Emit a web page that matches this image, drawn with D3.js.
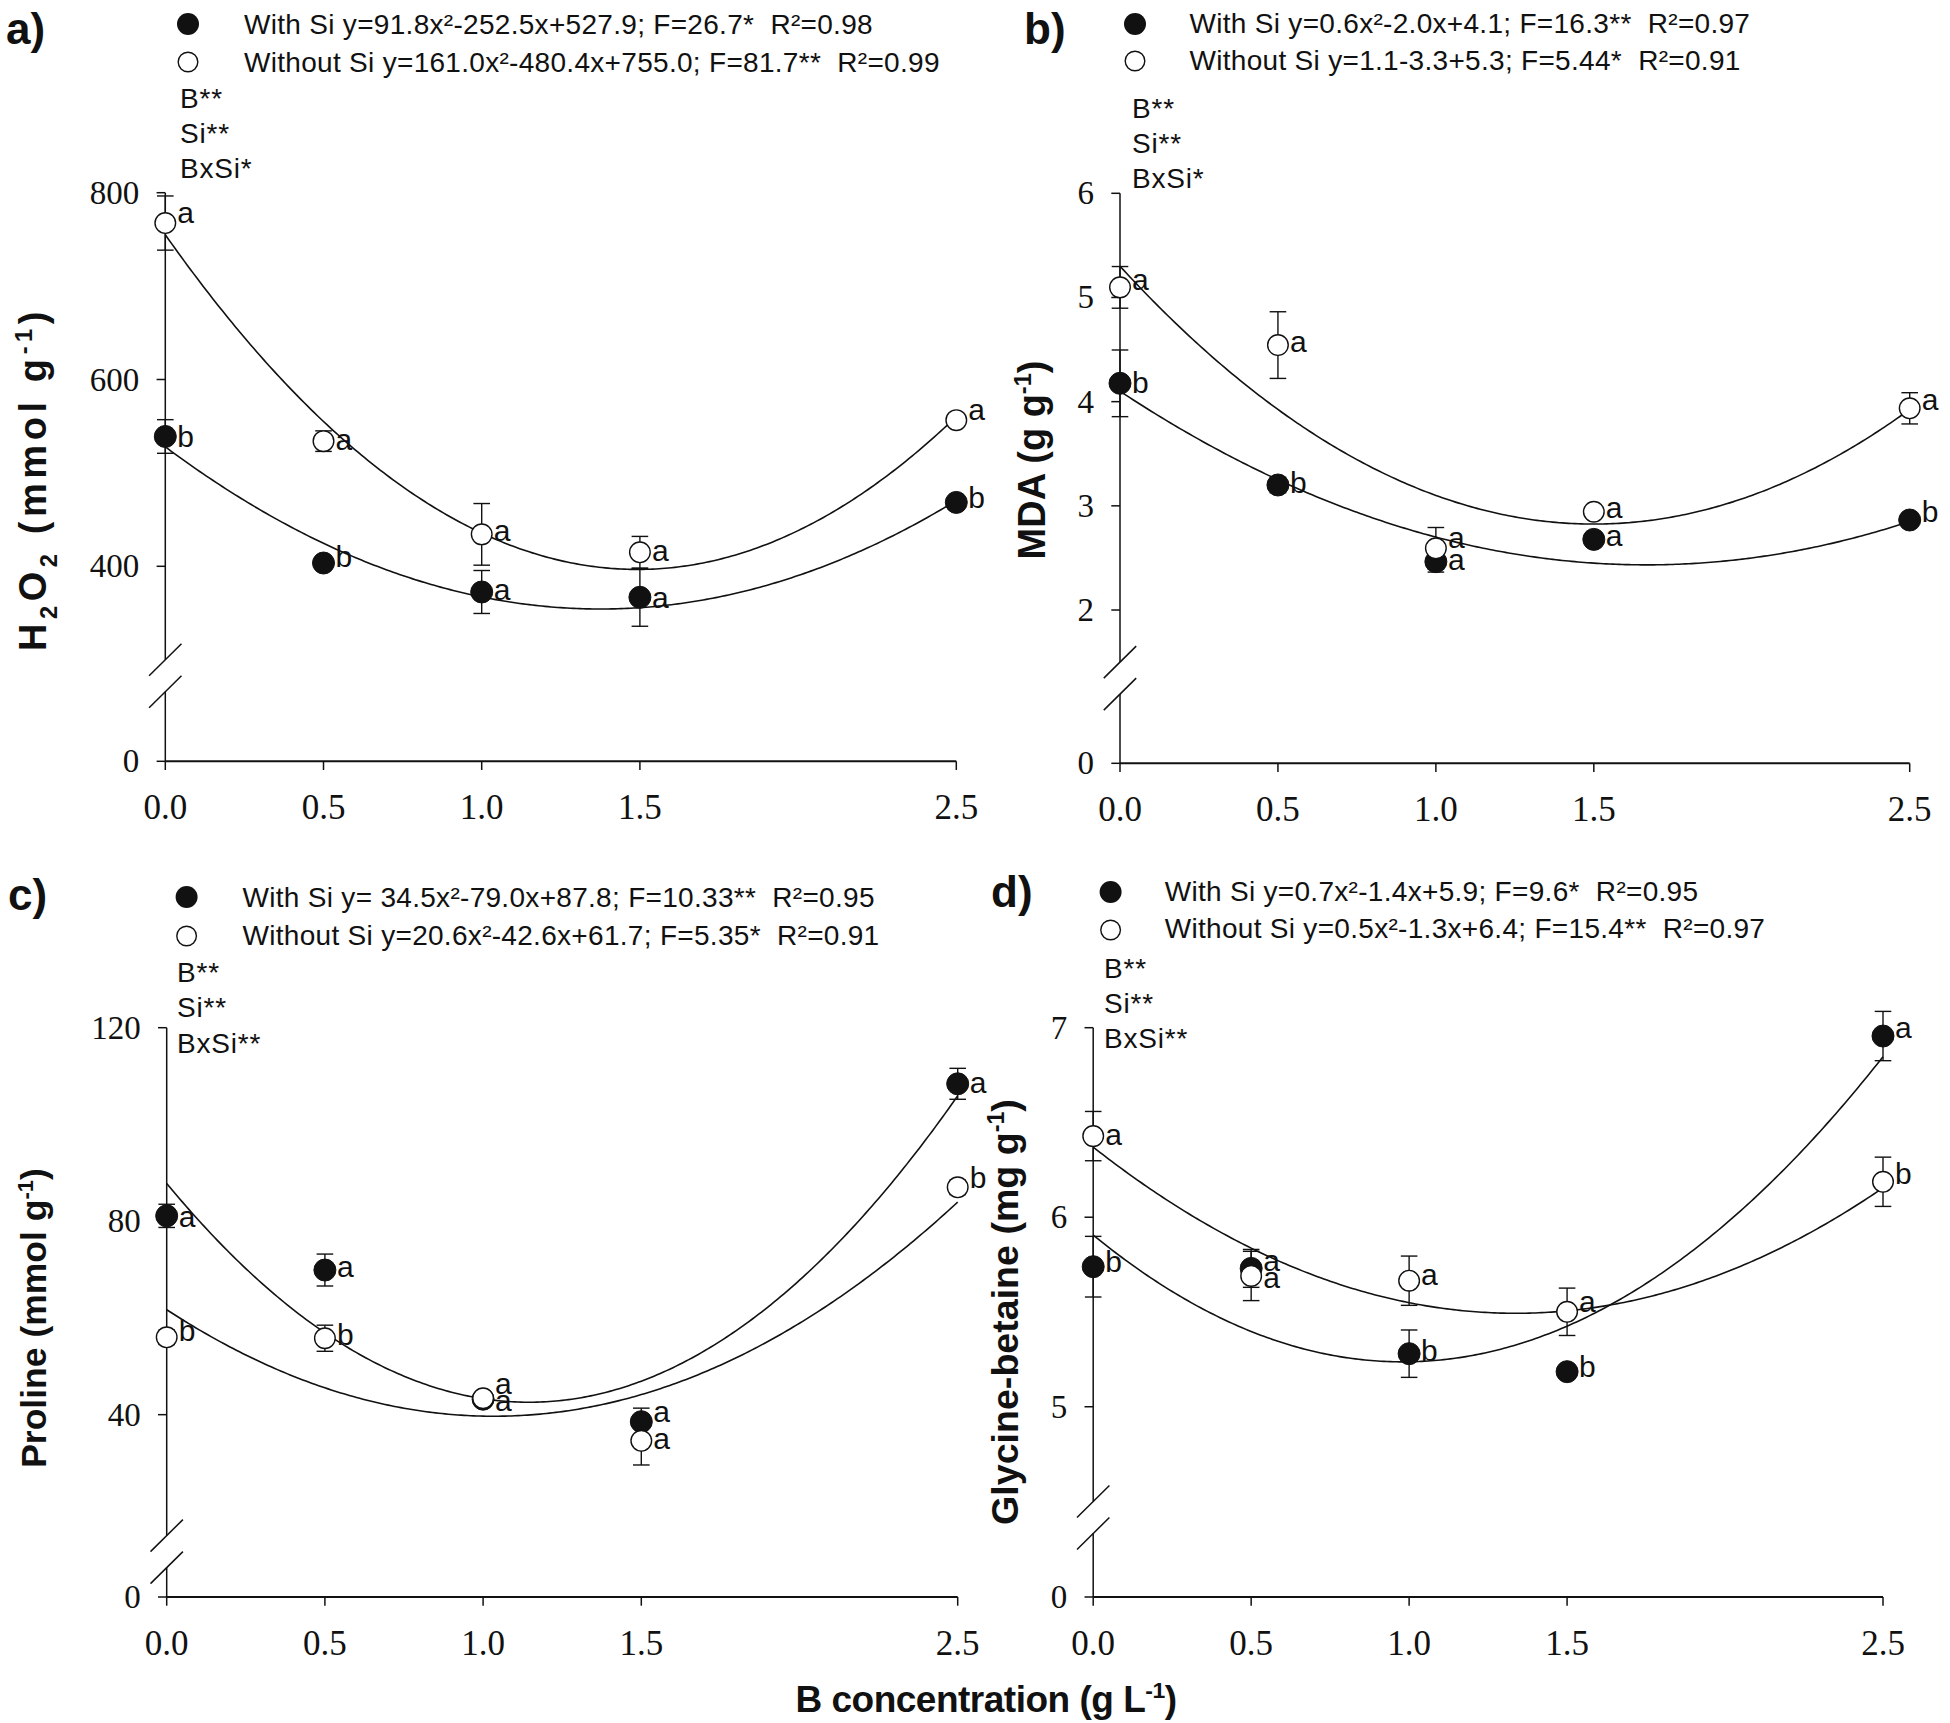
<!DOCTYPE html>
<html>
<head>
<meta charset="utf-8">
<script src="https://cdn.jsdelivr.net/npm/d3@7"></script>
<style>
  html, body { margin: 0; padding: 0; background: #ffffff; }
  svg { display: block; }
</style>
</head>
<body>
<svg id="chart" width="1950" height="1723"></svg>
<script>
// ---------------- DATA ----------------
const boronLevels = [0, 0.5, 1.0, 1.5, 2.5];
const xTickValues = [0, 0.5, 1.0, 1.5, 2.5];
const xTickLabels = ["0.0", "0.5", "1.0", "1.5", "2.5"];

// a) H2O2
const h2o2WithSi = [539, 403.5, 372.5, 366.8, 468.4];
const h2o2WithSiErr = [18, 5, 23, 31, 5];
const h2o2WithoutSi = [767.5, 534, 434.2, 415, 556.5];
const h2o2WithoutSiErr = [29, 11, 33, 17, 5];
const h2o2WithLetters = ["b", "b", "a", "a", "b"];
const h2o2WithoutLetters = ["a", "a", "a", "a", "a"];
const h2o2FitWith = [91.8, -252.5, 527.9];
const h2o2FitWithout = [161.0, -480.4, 755.0];
const h2o2Ticks = [0, 400, 600, 800];
const h2o2Legend = ["With Si y=91.8x²-252.5x+527.9; F=26.7*  R²=0.98",
                    "Without Si y=161.0x²-480.4x+755.0; F=81.7**  R²=0.99"];
const h2o2Stats = ["B**", "Si**", "BxSi*"];

// b) MDA
const mdaWithSi = [4.176, 3.2, 2.464, 2.678, 2.864];
const mdaWithSiErr = [0.32, 0.074, 0.1, 0.03, 0.03];
const mdaWithoutSi = [5.097, 4.543, 2.592, 2.943, 3.936];
const mdaWithoutSiErr = [0.2, 0.32, 0.2, 0.03, 0.15];
const mdaWithLetters = ["b", "b", "a", "a", "b"];
const mdaWithoutLetters = ["a", "a", "a", "a", "a"];
const mdaFitWith = [0.6, -2.0, 4.1];
const mdaFitWithout = [1.1, -3.3, 5.3];
const mdaTicks = [0, 2, 3, 4, 5, 6];
const mdaLegend = ["With Si y=0.6x²-2.0x+4.1; F=16.3**  R²=0.97",
                   "Without Si y=1.1-3.3+5.3; F=5.44*  R²=0.91"];
const mdaStats = ["B**", "Si**", "BxSi*"];

// c) Proline
const prolineWithSi = [81.1, 69.9, 43.2, 38.55, 108.4];
const prolineWithSiErr = [2.4, 3.3, 1, 2.8, 3.2];
const prolineWithoutSi = [56.0, 55.8, 43.4, 34.6, 87.0];
const prolineWithoutSiErr = [1.5, 2.7, 1, 5, 1.5];
const prolineWithLetters = ["a", "a", "a", "a", "a"];
const prolineWithoutLetters = ["b", "b", "a", "a", "b"];
const prolineFitWith = [34.5, -79.0, 87.8];
const prolineFitWithout = [20.6, -42.6, 61.7];
const prolineTicks = [0, 40, 80, 120];
const prolineLegend = ["With Si y= 34.5x²-79.0x+87.8; F=10.33**  R²=0.95",
                       "Without Si y=20.6x²-42.6x+61.7; F=5.35*  R²=0.91"];
const prolineStats = ["B**", "Si**", "BxSi**"];

// d) Glycine-betaine
const gbWithSi = [5.739, 5.73, 5.28, 5.185, 6.956];
const gbWithSiErr = [0.16, 0.1, 0.125, 0.03, 0.13];
const gbWithoutSi = [6.428, 5.69, 5.665, 5.501, 6.187];
const gbWithoutSiErr = [0.13, 0.13, 0.13, 0.125, 0.13];
const gbWithLetters = ["b", "a", "b", "b", "a"];
const gbWithoutLetters = ["a", "a", "a", "a", "b"];
// coefficients
const gbFitWith = [0.697, -1.366, 5.906];
const gbFitWithout = [0.49, -1.311, 6.37];
const gbTicks = [0, 5, 6, 7];
const gbLegend = ["With Si y=0.7x²-1.4x+5.9; F=9.6*  R²=0.95",
                  "Without Si y=0.5x²-1.3x+6.4; F=15.4**  R²=0.97"];
const gbStats = ["B**", "Si**", "BxSi**"];

const xTitle = [{t: "B concentration (g L"}, {t: "-1", s: "sup"}, {t: ")"}];

// ---------------- LAYOUT ----------------
const SANS = "'Liberation Sans', Arial, Helvetica, sans-serif";
const SERIF = "'Liberation Serif', 'Times New Roman', Times, serif";
const INK = "#111";

const panels = [
  {
    label: "a)", labelPos: [6, 44],
    xRange: [165.3, 956.3],
    yDomain: [0, 300, 800], yRange: [761.3, 659.7, 192.7], ticks: h2o2Ticks,
    withV: h2o2WithSi, withE: h2o2WithSiErr, withoutV: h2o2WithoutSi, withoutE: h2o2WithoutSiErr,
    withL: h2o2WithLetters, withoutL: h2o2WithoutLetters,
    withDy: [11, 4, 8, 11, 6], withoutDy: [0, 9, 7, 9, 0],
    fitWith: h2o2FitWith, fitWithout: h2o2FitWithout,
    legend: h2o2Legend, legCx: 188, legTx: 244, legY: [34, 72], legCy: [24, 62],
    stats: h2o2Stats, statsX: 180, statsY: [108, 143, 178],
    title: [{t: "H"}, {t: "2", s: "sub"}, {t: "O"}, {t: "2", s: "sub"}, {t: " (mmol g"}, {t: "-1", s: "sup"}, {t: ")"}],
    titleX: 46, titleY: 479, titleSpacing: 4.6, titleSize: 38
  },
  {
    label: "b)", labelPos: [1024, 44],
    xRange: [1120, 1909.7],
    yDomain: [0, 1.5, 6], yRange: [763.3, 662.1, 193.3], ticks: mdaTicks,
    withV: mdaWithSi, withE: mdaWithSiErr, withoutV: mdaWithoutSi, withoutE: mdaWithoutSiErr,
    withL: mdaWithLetters, withoutL: mdaWithoutLetters,
    withDy: [10, 8, 8, 7, 2], withoutDy: [3, 7, 0, 6, 2],
    fitWith: mdaFitWith, fitWithout: mdaFitWithout,
    legend: mdaLegend, legCx: 1135, legTx: 1189.5, legY: [33, 70], legCy: [24, 61],
    stats: mdaStats, statsX: 1132, statsY: [118, 153, 188],
    title: [{t: "MDA (g g"}, {t: "-1", s: "sup"}, {t: ")"}],
    titleX: 1045, titleY: 460, titleSpacing: 0, titleSize: 38
  },
  {
    label: "c)", labelPos: [8, 910],
    xRange: [166.7, 957.7],
    yDomain: [0, 15, 120], yRange: [1597, 1535.6, 1027.7], ticks: prolineTicks,
    withV: prolineWithSi, withE: prolineWithSiErr, withoutV: prolineWithoutSi, withoutE: prolineWithoutSiErr,
    withL: prolineWithLetters, withoutL: prolineWithoutLetters,
    withDy: [11, 7, -5, 0, 9], withoutDy: [4, 7, 13, 8, 1],
    fitWith: prolineFitWith, fitWithout: prolineFitWithout,
    legend: prolineLegend, legCx: 186.6, legTx: 242.5, legY: [907, 945], legCy: [897, 936],
    stats: prolineStats, statsX: 177, statsY: [982, 1017, 1053],
    title: [{t: "Proline (mmol g"}, {t: "-1", s: "sup"}, {t: ")"}],
    titleX: 46, titleY: 1318, titleSpacing: 0, titleSize: 35.5
  },
  {
    label: "d)", labelPos: [991, 907],
    xRange: [1093.2, 1883],
    yDomain: [0, 4.5, 7], yRange: [1597, 1501.5, 1027.7], ticks: gbTicks,
    withV: gbWithSi, withE: gbWithSiErr, withoutV: gbWithoutSi, withoutE: gbWithoutSiErr,
    withL: gbWithLetters, withoutL: gbWithoutLetters,
    withDy: [5, 20, 7, 5, 2], withoutDy: [9, -5, 4, 0, 2],
    fitWith: gbFitWith, fitWithout: gbFitWithout,
    legend: gbLegend, legCx: 1110.6, legTx: 1164.7, legY: [901, 938], legCy: [892, 930],
    stats: gbStats, statsX: 1104, statsY: [978, 1013, 1048],
    title: [{t: "Glycine-betaine (mg g"}, {t: "-1", s: "sup"}, {t: ")"}],
    titleX: 1018, titleY: 1312, titleSpacing: 0, titleSize: 37.6
  }
];

const svg = d3.select("#chart");
svg.append("rect").attr("width", 1950).attr("height", 1723).attr("fill", "#fff");

const TICK = 8.7;
const GAP = 32;
const MR = 11;       // filled marker radius
const MRO = 10.3;    // open marker radius
const CAP = 8.3;
const LEG_FS = 28;

function poly(c, x) { return c[0] * x * x + c[1] * x + c[2]; }

function richText(sel, parts, baseSize) {
  let shift = 0;
  parts.forEach(p => {
    const ts = sel.append("tspan").text(p.t);
    let target = 0, size = baseSize;
    if (p.s === "sub") { target = baseSize * 0.28; size = baseSize * 0.62; }
    if (p.s === "sup") { target = -baseSize * 0.38; size = baseSize * 0.62; }
    ts.attr("dy", target - shift).attr("font-size", size);
    shift = target;
  });
}

panels.forEach(P => {
  const g = svg.append("g");
  const x = d3.scaleLinear().domain([0, 2.5]).range(P.xRange);
  const y = d3.scaleLinear().domain(P.yDomain).range(P.yRange);
  const ax = P.xRange[0];
  const y0 = y(0);
  const yTop = y(P.yDomain[2]);
  const yBrk = y(P.yDomain[1]);

  // y axis (broken)
  g.append("line").attr("x1", ax).attr("x2", ax).attr("y1", yTop).attr("y2", yBrk)
    .attr("stroke", INK).attr("stroke-width", 1.5);
  g.append("line").attr("x1", ax).attr("x2", ax).attr("y1", yBrk + GAP).attr("y2", y0)
    .attr("stroke", INK).attr("stroke-width", 1.5);
  [yBrk, yBrk + GAP].forEach(cy => {
    g.append("line").attr("x1", ax - 16.2).attr("y1", cy + 16).attr("x2", ax + 16.2).attr("y2", cy - 16)
      .attr("stroke", INK).attr("stroke-width", 1.5);
  });
  // y ticks
  P.ticks.forEach(t => {
    g.append("line").attr("x1", ax - TICK).attr("x2", ax).attr("y1", y(t)).attr("y2", y(t))
      .attr("stroke", INK).attr("stroke-width", 1.5);
    g.append("text").attr("x", ax - 26).attr("y", y(t) + 11)
      .attr("text-anchor", "end").attr("font-family", SERIF).attr("font-size", 33)
      .attr("fill", INK).text(t);
  });

  // x axis
  g.append("line").attr("x1", ax).attr("x2", P.xRange[1]).attr("y1", y0).attr("y2", y0)
    .attr("stroke", INK).attr("stroke-width", 2);
  xTickValues.forEach((v, i) => {
    g.append("line").attr("x1", x(v)).attr("x2", x(v)).attr("y1", y0).attr("y2", y0 + TICK)
      .attr("stroke", INK).attr("stroke-width", 1.5);
    g.append("text").attr("x", x(v)).attr("y", y0 + 58)
      .attr("text-anchor", "middle").attr("font-family", SERIF).attr("font-size", 35)
      .attr("fill", INK).text(xTickLabels[i]);
  });

  // fitted curves
  const xs = d3.range(0, 2.5001, 0.01);
  [P.fitWith, P.fitWithout].forEach(c => {
    g.append("path")
      .attr("d", d3.line().x(d => x(d)).y(d => y(poly(c, d)))(xs))
      .attr("fill", "none").attr("stroke", INK).attr("stroke-width", 1.6);
  });

  // error bars
  function errBars(vals, errs) {
    vals.forEach((v, i) => {
      const cx = x(boronLevels[i]);
      const yt = y(v + errs[i]), yb = y(v - errs[i]);
      g.append("line").attr("x1", cx).attr("x2", cx).attr("y1", yt).attr("y2", yb)
        .attr("stroke", INK).attr("stroke-width", 1.4);
      [yt, yb].forEach(yy => g.append("line").attr("x1", cx - CAP).attr("x2", cx + CAP)
        .attr("y1", yy).attr("y2", yy).attr("stroke", INK).attr("stroke-width", 1.4));
    });
  }
  errBars(P.withV, P.withE);
  errBars(P.withoutV, P.withoutE);

  // markers
  P.withV.forEach((v, i) => {
    g.append("circle").attr("cx", x(boronLevels[i])).attr("cy", y(v)).attr("r", MR)
      .attr("fill", INK).attr("stroke", INK).attr("stroke-width", 1);
  });
  P.withoutV.forEach((v, i) => {
    g.append("circle").attr("cx", x(boronLevels[i])).attr("cy", y(v)).attr("r", MRO)
      .attr("fill", "#fff").attr("stroke", INK).attr("stroke-width", 1.4);
  });

  // letters
  function letters(vals, ls, dys) {
    vals.forEach((v, i) => {
      g.append("text").attr("x", x(boronLevels[i]) + 12).attr("y", y(v) + dys[i])
        .attr("font-family", SANS).attr("font-size", 30).attr("fill", INK).text(ls[i]);
    });
  }
  letters(P.withV, P.withL, P.withDy);
  letters(P.withoutV, P.withoutL, P.withoutDy);

  // legend
  g.append("circle").attr("cx", P.legCx).attr("cy", P.legCy[0]).attr("r", MR).attr("fill", INK);
  g.append("circle").attr("cx", P.legCx).attr("cy", P.legCy[1]).attr("r", 9.8)
    .attr("fill", "#fff").attr("stroke", INK).attr("stroke-width", 1.4);
  P.legend.forEach((s, i) => {
    g.append("text").attr("x", P.legTx).attr("y", P.legY[i])
      .attr("font-family", SANS).attr("font-size", LEG_FS).attr("letter-spacing", 0.3)
      .attr("fill", INK).style("white-space", "pre").text(s);
  });
  P.stats.forEach((s, i) => {
    g.append("text").attr("x", P.statsX).attr("y", P.statsY[i])
      .attr("font-family", SANS).attr("font-size", LEG_FS).attr("letter-spacing", 0.8)
      .attr("fill", INK).text(s);
  });

  // panel label
  g.append("text").attr("x", P.labelPos[0]).attr("y", P.labelPos[1])
    .attr("font-family", SANS).attr("font-weight", "bold").attr("font-size", 44)
    .attr("fill", INK).text(P.label);

  // y title
  const tt = g.append("text")
    .attr("transform", `translate(${P.titleX},${P.titleY}) rotate(-90)`)
    .attr("text-anchor", "middle").attr("font-family", SANS).attr("font-weight", "bold")
    .attr("font-size", P.titleSize).attr("letter-spacing", P.titleSpacing).attr("fill", INK);
  richText(tt, P.title, P.titleSize);
});

// x-axis title
const xt = svg.append("text").attr("x", 986).attr("y", 1712)
  .attr("text-anchor", "middle").attr("font-family", SANS).attr("font-weight", "bold")
  .attr("font-size", 37).attr("letter-spacing", -0.5).attr("fill", INK);
richText(xt, xTitle, 37);
</script>
</body>
</html>
